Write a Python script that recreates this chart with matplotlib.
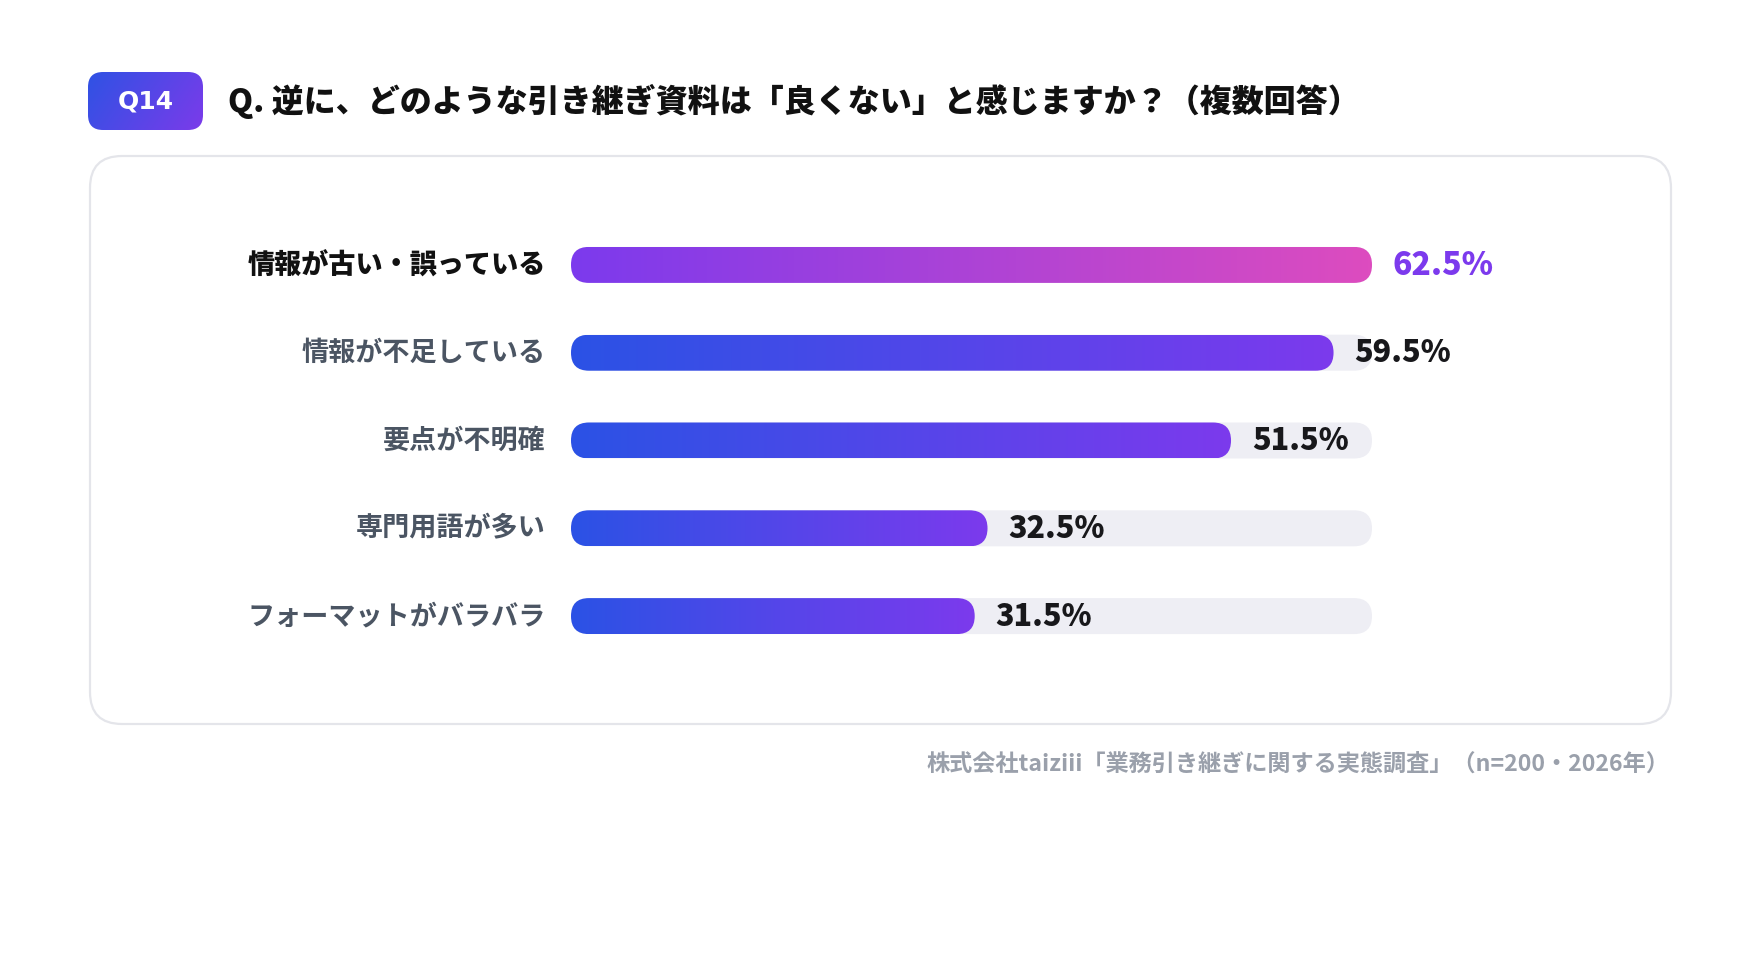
import numpy as np
import matplotlib
matplotlib.use('Agg')
import matplotlib.pyplot as plt
from matplotlib.patches import FancyBboxPatch
from matplotlib.colors import LinearSegmentedColormap

plt.rcParams['font.family'] = ['Noto Sans CJK JP', 'DejaVu Sans']

# データ
categories = ['情報が古い・誤っている', '情報が不足している', '要点が不明確', '専門用語が多い', 'フォーマットがバラバラ']
values = [62.5, 59.5, 51.5, 32.5, 31.5]
badge_text = 'Q14'
title = 'Q. 逆に、どのような引き継ぎ資料は「良くない」と感じますか？（複数回答）'
source = '株式会社taiziii「業務引き継ぎに関する実態調査」（n=200・2026年）'

W, H = 1760, 960
fig = plt.figure(figsize=(W / 100, H / 100), dpi=100)
fig.patch.set_facecolor('white')

# 背景用（ピクセル座標）
bg = fig.add_axes([0, 0, 1, 1])
bg.set_xlim(0, W)
bg.set_ylim(H, 0)
bg.axis('off')


def gradient_box(ax, x, y, w, h, colors, r, m_aspect=1.0, diag=False, z=3):
    patch = FancyBboxPatch((x, y), w, h, boxstyle=f'round,pad=0,rounding_size={r}',
                           mutation_aspect=m_aspect, fc='none', ec='none', zorder=z)
    ax.add_patch(patch)
    cmap = LinearSegmentedColormap.from_list('g', colors)
    if diag:
        gx, gy = np.meshgrid(np.linspace(0, 1, 256), np.linspace(0, 1, 64))
        grad = (gx * 0.75 + gy * 0.25)
    else:
        grad = np.linspace(0, 1, 256)[None, :]
    im = ax.imshow(grad, cmap=cmap, extent=(x, x + w, y + h, y), aspect='auto',
                   interpolation='bicubic', zorder=z, origin='upper')
    im.set_clip_path(patch)
    return patch


# カード
card = FancyBboxPatch((90, 156), 1581, 568, boxstyle='round,pad=0,rounding_size=32',
                      fc='white', ec='#e4e5ea', lw=1.6, zorder=1)
bg.add_patch(card)

# バッジとタイトル
gradient_box(bg, 88, 72, 115, 58, ['#2f52e4', '#7b3bea'], 15, diag=True)
bg.text(145.5, 101, badge_text, color='white', fontsize=18, fontweight='bold',
        family='DejaVu Sans', ha='center', va='center', zorder=5)
bg.text(228, 101, title, color='#111111', fontsize=23, fontweight=900,
        ha='left', va='center')

# 出典
bg.text(1669, 765, source, color='#9aa0ab', fontsize=16.7, fontweight='bold',
        ha='right', va='center')
bg.set_xlim(0, W)
bg.set_ylim(H, 0)

# 棒グラフ
left_px, right_px = 571, 1372
top_px, bot_px = 221, 660
ax = fig.add_axes([left_px / W, (H - bot_px) / H, (right_px - left_px) / W, (bot_px - top_px) / H])
ax.axis('off')
xmax = max(values)
n = len(values)
px_x = (right_px - left_px) / xmax
px_y = (bot_px - top_px) / n
bar_px = 36
h = bar_px / px_y
r = (bar_px / 2) / px_x
m_aspect = px_x / px_y

for i, (cat, v) in enumerate(zip(categories, values)):
    track = FancyBboxPatch((0, i - h / 2), xmax, h, boxstyle=f'round,pad=0,rounding_size={r}',
                           mutation_aspect=m_aspect, fc='#eeeef4', ec='none', zorder=1)
    ax.add_patch(track)
    if i == 0:
        cols = ['#7c3aed', '#dd4cbf']
        lab_col, lab_w, val_col = '#111111', 900, '#7c3aed'
    else:
        cols = ['#2b52e5', '#7c3aed']
        lab_col, lab_w, val_col = '#4b5563', 'bold', '#18181b'
    gradient_box(ax, 0, i - h / 2, v, h, cols, r, m_aspect=m_aspect)
    ax.annotate(cat, xy=(0, i), xytext=(-18, 0), textcoords='offset points',
                ha='right', va='center', fontsize=19.5, fontweight=lab_w, color=lab_col)
    ax.annotate(f'{v}%', xy=(v, i), xytext=(15, 0), textcoords='offset points',
                ha='left', va='center', fontsize=23 if i == 0 else 22,
                fontweight=900, color=val_col)

ax.set_xlim(0, xmax)
ax.set_ylim(n - 0.5, -0.5)

plt.savefig('out.png', dpi=100, facecolor='white')
